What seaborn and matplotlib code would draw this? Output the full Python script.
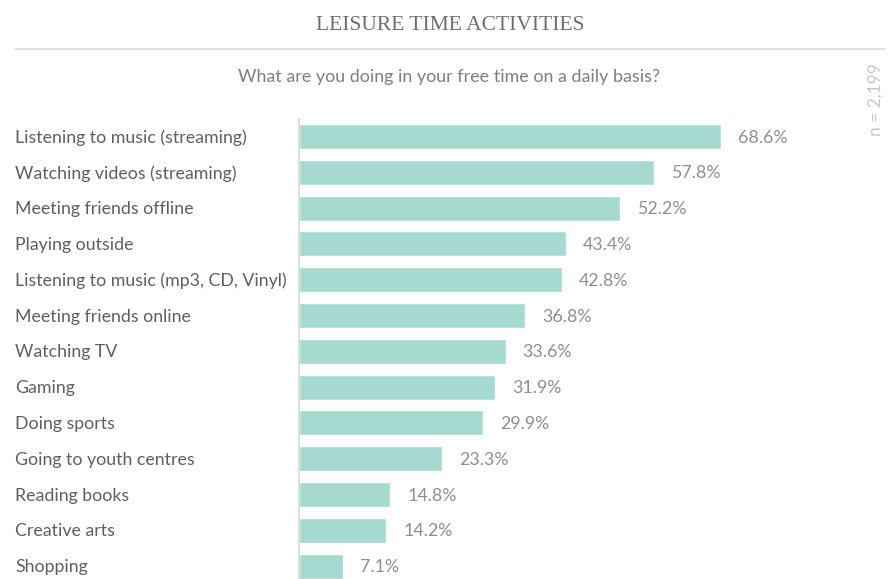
import matplotlib
matplotlib.use("Agg")
import matplotlib.pyplot as plt
import seaborn as sns
import pandas as pd

# Survey data: share of respondents doing each activity daily
activities = [
    "Listening to music (streaming)",
    "Watching videos (streaming)",
    "Meeting friends offline",
    "Playing outside",
    "Listening to music (mp3, CD, Vinyl)",
    "Meeting friends online",
    "Watching TV",
    "Gaming",
    "Doing sports",
    "Going to youth centres",
    "Reading books",
    "Creative arts",
    "Shopping",
]
shares = [68.6, 57.8, 52.2, 43.4, 42.8, 36.8, 33.6, 31.9, 29.9, 23.3, 14.8, 14.2, 7.1]

title = "LEISURE TIME ACTIVITIES"
subtitle = "What are you doing in your free time on a daily basis?"
sample_note = "n = 2,199"

df = pd.DataFrame({"activity": activities, "share": shares})

sns.set_theme(style="white")
plt.rcParams["font.family"] = ["Lato", "DejaVu Sans"]

W, H = 890, 579
fig = plt.figure(figsize=(W / 100, H / 100), dpi=100)

ax_left, ax_top, ax_bottom = 299, 119, 579
ax = fig.add_axes([ax_left / W, 1 - ax_bottom / H, (W - ax_left) / W, (ax_bottom - ax_top) / H])

bar_color = "#a6dad0"
sns.barplot(data=df, x="share", y="activity", orient="h", color=bar_color,
            width=0.7, saturation=1, ax=ax)

px_per_unit = 6.15
ax.set_xlim(0, (W - ax_left) / px_per_unit)
ax.set_ylim(len(activities) - 1 + 0.36, -0.49)
ax.set_xlabel("")
ax.set_ylabel("")
ax.set_xticks([])
ax.set_yticks([])
for side in ["top", "right", "bottom"]:
    ax.spines[side].set_visible(False)
ax.spines["left"].set_color("#d8d8d8")
ax.spines["left"].set_linewidth(1.2)

# Category names, left-aligned at the figure margin
for i, name in enumerate(activities):
    ax.annotate(name, xy=(0, i), xycoords=("figure fraction", "data"),
                xytext=(15, -1), textcoords="offset pixels",
                ha="left", va="center", fontsize=12.8, color="#5f5f5f",
                annotation_clip=False)

# Value labels after each bar
for i, v in enumerate(shares):
    ax.annotate(f"{v:.1f}%", xy=(v, i), xytext=(17, -1), textcoords="offset pixels",
                ha="left", va="center", fontsize=12.8, color="#8e8e8e")

# Header
fig.text(450 / W, 1 - 25 / H, title, ha="center", va="center",
         fontsize=15.5, color="#6e6e6e", family=["Liberation Serif", "DejaVu Serif"])
fig.add_artist(plt.Line2D([15 / W, 885 / W], [1 - 49 / H, 1 - 49 / H],
                          color="#dcdcdc", linewidth=1.2))
fig.text(449 / W, 1 - 77 / H, subtitle, ha="center", va="center",
         fontsize=12.9, color="#7e7e7e")
fig.text(876 / W, 1 - 100 / H, sample_note, ha="center", va="center",
         rotation=90, fontsize=12.5, color="#c8c8c8")

fig.savefig("out.png", dpi=100, facecolor="white")
